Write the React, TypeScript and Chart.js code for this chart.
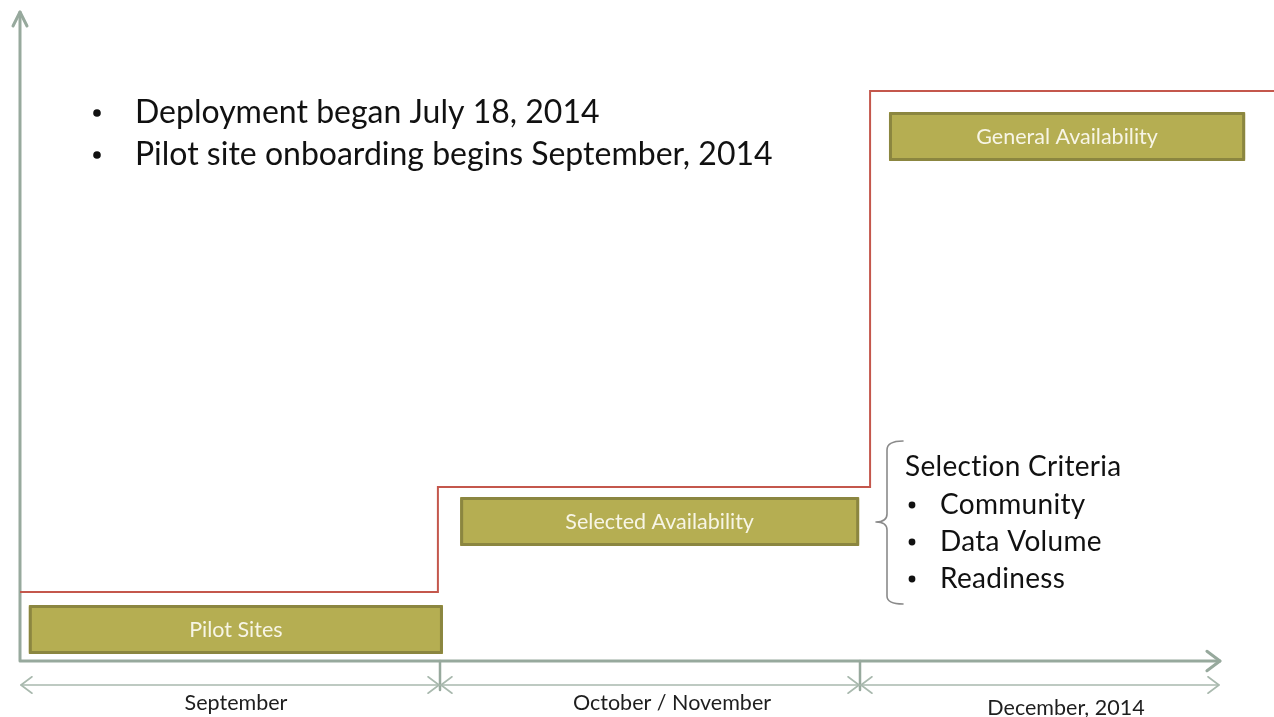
import React, { useEffect, useRef } from "react";
import { Chart, registerables } from "chart.js";

Chart.register(...registerables);

// Timeline periods (x in "period" units: 1 unit = one period column)
const periodLabels = ["September", "October / November", "December, 2014"];
const periodBounds = [0, 1, 2, 2.857];

// Phases
const phaseNames = ["Pilot Sites", "Selected Availability", "General Availability"];
const phaseStart = [0.021, 1.048, 2.069];
const phaseEnd = [1.007, 1.998, 2.917];
const phaseTop = [0.56, 1.64, 5.49];
const phaseBottom = [0.07, 1.15, 5.0];

// Availability step line
const stepX = [0, 0.995, 2.024, 2.986];
const stepLevel = [0.69, 1.74, 5.7, 5.7];

// Notes
const notes = ["Deployment began July 18, 2014", "Pilot site onboarding begins September, 2014"];
const criteriaTitle = "Selection Criteria";
const criteria = ["Community", "Data Volume", "Readiness"];

const FONT = "Lato, 'Open Sans', sans-serif";

function chevron(ctx: CanvasRenderingContext2D, x: number, y: number, dir: number, size: number) {
  ctx.beginPath();
  ctx.moveTo(x - dir * size, y - size * 0.75);
  ctx.lineTo(x, y);
  ctx.lineTo(x - dir * size, y + size * 0.75);
  ctx.stroke();
}

function setSpacing(ctx: any, v: string) {
  if ("letterSpacing" in ctx) ctx.letterSpacing = v;
}

const diagramPlugin = {
  id: "diagram",
  beforeDatasetsDraw(chart: any) {
    const ctx: CanvasRenderingContext2D = chart.ctx;
    const xs = chart.scales.x;
    const ys = chart.scales.y;
    const px = (v: number) => xs.getPixelForValue(v);
    const py = (v: number) => ys.getPixelForValue(v);
    ctx.save();
    ctx.lineCap = "round";
    ctx.lineJoin = "round";

    // Main axes
    const ox = px(0);
    const oy = py(0);
    const axisColor = "#97a99d";
    ctx.strokeStyle = axisColor;
    ctx.lineWidth = 3;
    ctx.beginPath();
    ctx.moveTo(ox, oy);
    ctx.lineTo(ox, 12);
    ctx.moveTo(ox, oy);
    ctx.lineTo(px(periodBounds[3]), oy);
    ctx.stroke();
    ctx.beginPath();
    ctx.moveTo(ox - 7, 26);
    ctx.lineTo(ox, 12);
    ctx.lineTo(ox + 7, 26);
    ctx.stroke();
    chevron(ctx, px(periodBounds[3]), oy, 1, 13);

    // period separators
    ctx.lineWidth = 2.5;
    for (let i = 1; i < periodBounds.length - 1; i++) {
      ctx.beginPath();
      ctx.moveTo(px(periodBounds[i]), oy);
      ctx.lineTo(px(periodBounds[i]), oy + 29);
      ctx.stroke();
    }
    // dimension lines
    const dy = oy + 24;
    ctx.strokeStyle = "#a9b9ae";
    ctx.lineWidth = 1.6;
    for (let i = 0; i < periodBounds.length - 1; i++) {
      const a = px(periodBounds[i]) + 1;
      const b = px(periodBounds[i + 1]) - 1;
      ctx.beginPath();
      ctx.moveTo(a, dy);
      ctx.lineTo(b, dy);
      ctx.stroke();
      chevron(ctx, a, dy, -1, 11);
      chevron(ctx, b, dy, 1, 11);
    }
    // period labels
    ctx.fillStyle = "#1e1e1e";
    ctx.font = `21.5px ${FONT}`;
    ctx.textAlign = "center";
    ctx.textBaseline = "middle";
    const labelY = [703, 703, 708];
    const labelShift = [6, 22, 26];
    for (let i = 0; i < periodLabels.length; i++) {
      const c = (px(periodBounds[i]) + px(periodBounds[i + 1])) / 2 + labelShift[i];
      ctx.fillText(periodLabels[i], c, labelY[i]);
    }

    // phase boxes
    for (let i = 0; i < phaseNames.length; i++) {
      const x0 = px(phaseStart[i]);
      const x1 = px(phaseEnd[i]);
      const y0 = py(phaseTop[i]);
      const y1 = py(phaseBottom[i]);
      ctx.fillStyle = "#b5ae52";
      ctx.fillRect(x0, y0, x1 - x0, y1 - y0);
      ctx.strokeStyle = "#8b8640";
      ctx.lineWidth = 3;
      ctx.strokeRect(x0 + 1.5, y0 + 1.5, x1 - x0 - 3, y1 - y0 - 3);
      ctx.fillStyle = "#f7f5e6";
      ctx.font = `21.5px ${FONT}`;
      ctx.textAlign = "center";
      ctx.textBaseline = "middle";
      ctx.fillText(phaseNames[i], (x0 + x1) / 2, (y0 + y1) / 2 + 1);
    }

    // notes
    ctx.fillStyle = "#111";
    ctx.font = `32px ${FONT}`;
    ctx.textAlign = "left";
    ctx.textBaseline = "middle";
    const noteY = [113, 155];
    notes.forEach((n, i) => {
      ctx.beginPath();
      ctx.arc(97, noteY[i], 3.8, 0, Math.PI * 2);
      ctx.fill();
      ctx.fillText(n, 135, noteY[i]);
    });

    // bracket
    ctx.strokeStyle = "#8a8a8a";
    ctx.lineWidth = 1.6;
    ctx.beginPath();
    ctx.moveTo(903, 441);
    ctx.quadraticCurveTo(887, 441, 887, 450);
    ctx.lineTo(887, 514);
    ctx.quadraticCurveTo(887, 522, 876, 522);
    ctx.quadraticCurveTo(887, 522, 887, 530);
    ctx.lineTo(887, 596);
    ctx.quadraticCurveTo(887, 604, 903, 604);
    ctx.stroke();

    // criteria
    ctx.fillStyle = "#111";
    ctx.font = `28px ${FONT}`;
    setSpacing(ctx, "0.3px");
    ctx.fillText(criteriaTitle, 905, 467);
    const cy = [505, 542, 579];
    criteria.forEach((c, i) => {
      ctx.beginPath();
      ctx.arc(912, cy[i], 3.4, 0, Math.PI * 2);
      ctx.fill();
      ctx.fillText(c, 940, cy[i]);
    });
    setSpacing(ctx, "0px");
    ctx.restore();
  },
};

export default function App() {
  const ref = useRef<HTMLCanvasElement>(null);
  useEffect(() => {
    if (!ref.current) return;
    const chart = new Chart(ref.current, {
      type: "line",
      data: {
        datasets: [
          {
            data: stepX.map((x, i) => ({ x, y: stepLevel[i] })),
            borderColor: "#c4574c",
            borderWidth: 2,
            stepped: "before",
            pointRadius: 0,
            fill: false,
          },
        ],
      },
      options: {
        animation: false,
        responsive: true,
        maintainAspectRatio: false,
        layout: { padding: 0 },
        plugins: { legend: { display: false }, tooltip: { enabled: false }, title: { display: false } },
        scales: {
          x: { type: "linear", min: -20 / 420, max: 1254 / 420, display: false },
          y: { type: "linear", min: -0.56, max: 6.61, display: false },
        },
      },
      plugins: [diagramPlugin],
    });
    return () => chart.destroy();
  }, []);
  return (
    <div style={{ position: "fixed", left: 0, top: 0, width: 1274, height: 717, background: "#fff" }}>
      <canvas ref={ref} />
    </div>
  );
}
